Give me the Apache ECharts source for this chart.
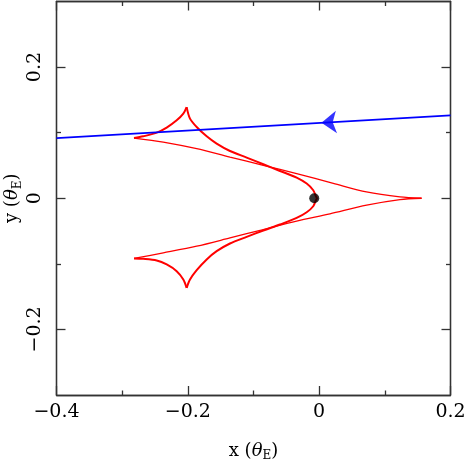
<!DOCTYPE html>
<html>
<head>
<meta charset="utf-8">
<script src="https://cdn.jsdelivr.net/npm/echarts@6/dist/echarts.min.js"></script>
<style>
html,body{margin:0;padding:0;background:#fff;}
#chart{width:464px;height:463px;}
</style>
</head>
<body>
<div id="chart"></div>
<script>
// Axis ticks
const xMajorTicks = [-0.4, -0.2, 0, 0.2];
const xMinorTicks = [-0.3, -0.1, 0.1];
const yMajorTicks = [-0.2, 0, 0.2];
const yMinorTicks = [-0.1, 0.1];

// Caustic segments (x, y in theta_E), cusp to cusp
const thinUpper = [[0.156,0.000],[0.123,0.002],[0.072,0.0096],[0.0215,0.0228],[-0.0343,0.0376],[-0.0851,0.0503],[-0.1358,0.0627],[-0.1865,0.0756],[-0.2374,0.0857],[-0.282,0.0918]];
const leftUpperArc = [[-0.282,0.0918],[-0.2679,0.0944],[-0.2474,0.1000],[-0.2322,0.1077],[-0.2170,0.1188],[-0.2069,0.1290],[-0.2018,0.1390]];
const innerArc = [[-0.2018,0.1390],[-0.1967,0.1214],[-0.1865,0.1086],[-0.1713,0.0944],[-0.1561,0.0833],[-0.1358,0.0720],[-0.1104,0.0620],[-0.0851,0.0518],[-0.0597,0.0416],[-0.0343,0.0315],[-0.0190,0.0224],[-0.0090,0.0122],[-0.0049,0.0030],[-0.0035,0.0000],[-0.0049,-0.0030],[-0.0090,-0.0122],[-0.0190,-0.0213],[-0.0343,-0.0300],[-0.0597,-0.0400],[-0.0851,-0.0492],[-0.1104,-0.0589],[-0.1358,-0.0690],[-0.1561,-0.0807],[-0.1713,-0.0933],[-0.1865,-0.1096],[-0.1967,-0.1239],[-0.2018,-0.1366]];
const leftLowerArc = [[-0.2018,-0.1366],[-0.2069,-0.1238],[-0.2170,-0.1112],[-0.2322,-0.1010],[-0.2474,-0.0949],[-0.2679,-0.0924],[-0.282,-0.0918]];
const thinLower = [[-0.282,-0.0918],[-0.2374,-0.0833],[-0.1865,-0.0731],[-0.1358,-0.0605],[-0.0851,-0.0477],[-0.0343,-0.0350],[0.0164,-0.0238],[0.0723,-0.0105],[0.1230,-0.0020],[0.156,0.000]];

// Source trajectory
const trajectory = [[-0.4,0.0918],[0.2,0.1264]];
const arrowPoint = [[0.0035,0.1151]];
// Lens position
const lensPoint = [[-0.0075,0.0]];

const FONT = 'DejaVu Serif';
const fmt = v => (Math.abs(v) < 1e-9 ? '0' : (v < 0 ? '\u2212' + String(Math.abs(+v.toFixed(2))) : String(+v.toFixed(2))));
const axisLineStyle = {color:'#333', width:1.3};
const nameStyle = {fontFamily:FONT, fontSize:18, color:'#000', rich:{
  t:{fontFamily:FONT, fontStyle:'italic', fontSize:18, color:'#000'},
  s:{fontFamily:FONT, fontSize:12, color:'#000', padding:[10,0,0,0]}
}};

function xAxisDef(pos, ticks, len, labels, name) {
  return {
    type:'value', position:pos, min:-0.4, max:0.2,
    axisLine:{show:true, onZero:false, lineStyle:axisLineStyle},
    axisTick:{show:true, inside:true, length:len, customValues:ticks, lineStyle:axisLineStyle},
    axisLabel:labels ? {show:true, customValues:xMajorTicks, formatter:fmt, color:'#000', fontFamily:FONT, fontSize:19, margin:8} : {show:false},
    splitLine:{show:false},
    name: name || '', nameLocation:'middle', nameGap:45, nameMoveOverlap:false,
    nameTextStyle: name ? nameStyle : {}
  };
}
function yAxisDef(pos, ticks, len, labels, name) {
  return {
    type:'value', position:pos, min:-0.3, max:0.3,
    axisLine:{show:true, onZero:false, lineStyle:axisLineStyle},
    axisTick:{show:true, inside:true, length:len, customValues:ticks, lineStyle:axisLineStyle},
    axisLabel:labels ? {show:true, customValues:yMajorTicks, formatter:fmt, color:'#000', fontFamily:FONT, fontSize:19, rotate:90, margin:12} : {show:false},
    splitLine:{show:false},
    name: name || '', nameLocation:'middle', nameGap:33, nameRotate:90, nameMoveOverlap:false,
    nameTextStyle: name ? nameStyle : {}
  };
}

const chart = echarts.init(document.getElementById('chart'), null, {renderer:'canvas'});
const red = '#ff0000';
const lineSeries = (data, w) => ({type:'line', data, showSymbol:false, symbol:'none', smooth:0.3, animation:false, lineStyle:{color:red, width:w}, z:3});

chart.setOption({
  animation:false,
  backgroundColor:'#fff',
  grid:{left:56.5, right:13.5, top:1.5, bottom:68, containLabel:false, outerBoundsMode:'none'},
  xAxis:[
    xAxisDef('bottom', xMajorTicks, 9, true, 'x ({t|\u03b8}{s|E})'),
    xAxisDef('bottom', xMinorTicks, 4.5, false),
    xAxisDef('top', xMajorTicks, 9, false),
    xAxisDef('top', xMinorTicks, 4.5, false)
  ],
  yAxis:[
    yAxisDef('left', yMajorTicks, 9, true, 'y ({t|\u03b8}{s|E})'),
    yAxisDef('left', yMinorTicks, 4.5, false),
    yAxisDef('right', yMajorTicks, 9, false),
    yAxisDef('right', yMinorTicks, 4.5, false)
  ],
  series:[
    lineSeries(thinUpper, 1.3),
    lineSeries(leftUpperArc, 2),
    lineSeries(innerArc, 2),
    lineSeries(leftLowerArc, 2),
    lineSeries(thinLower, 1.3),
    {type:'line', data:trajectory, showSymbol:false, symbol:'none', lineStyle:{color:'#0000ff', width:1.8}, z:4},
    {type:'scatter', data:arrowPoint, symbol:'arrow', symbolSize:[17,15], symbolRotate:93, itemStyle:{color:'#0000ff'}, z:5},
    {type:'scatter', data:lensPoint, symbol:'circle', symbolSize:10, itemStyle:{color:'#000'}, z:6}
  ]
});
</script>
</body>
</html>
